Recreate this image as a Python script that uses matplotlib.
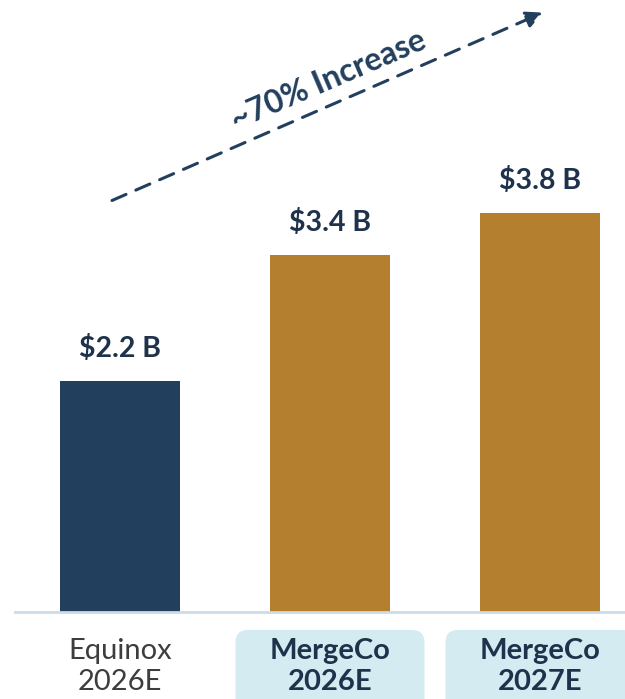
import matplotlib.pyplot as plt
from matplotlib.patches import FancyBboxPatch

plt.rcParams['font.family'] = ['Lato', 'DejaVu Sans']

# Data
categories = ['Equinox\n2026E', 'MergeCo\n2026E', 'MergeCo\n2027E']
values = [2.2, 3.4, 3.8]
value_labels = ['$2.2 B', '$3.4 B', '$3.8 B']
highlight = [False, True, True]
increase_label = '~70% Increase'

NAVY = '#223f5d'
GOLD = '#b47f2f'
TEXT_DARK = '#1f324b'
BOX_BLUE = '#d3ebf1'
BASE_LINE = '#cbdde9'

fig = plt.figure(figsize=(6.25, 6.99), dpi=100)
ax = fig.add_axes([15 / 625, 87 / 699, 610 / 625, 612 / 699])

x = list(range(len(values)))
colors = [GOLD if h else NAVY for h in highlight]
ax.bar(x, values, width=0.571, color=colors, zorder=2)

ax.set_xlim(-0.5, 2.405)
ax.set_ylim(0, 5.83)

for s in ['top', 'right', 'left']:
    ax.spines[s].set_visible(False)
ax.spines['bottom'].set_color(BASE_LINE)
ax.spines['bottom'].set_linewidth(2)
ax.set_xticks([])
ax.set_yticks([])

# value labels above bars
for xi, v, lab in zip(x, values, value_labels):
    ax.text(xi, v + 0.18, lab, ha='center', va='bottom', fontsize=20.5,
            fontweight='bold', color=TEXT_DARK)

# category labels below the baseline
for xi, cat, h in zip(x, categories, highlight):
    if h:
        box = FancyBboxPatch((xi - 0.45, -1.0), 0.9, 1.0 - 0.171,
                             boxstyle='round,pad=0,rounding_size=0.06',
                             mutation_aspect=2, transform=ax.transData,
                             facecolor=BOX_BLUE, edgecolor='none', clip_on=False)
        ax.add_patch(box)
        ax.text(xi, -0.52, cat, ha='center', va='center', fontsize=21,
                fontweight='bold', color=TEXT_DARK, linespacing=1.2,
                clip_on=False)
    else:
        ax.text(xi, -0.52, cat, ha='center', va='center', fontsize=21,
                fontweight='normal', color='#3d3d3d', linespacing=1.2,
                clip_on=False)

# dashed growth arrow
ax.annotate('', xy=(2.014, 5.71), xytext=(-0.038, 3.92),
            arrowprops=dict(arrowstyle='-|>,head_length=1.0,head_width=0.5',
                            linestyle=(0, (5, 3.5)), lw=2.2, color=NAVY,
                            shrinkA=0, shrinkB=0),
            annotation_clip=False)
ax.text(0.99, 5.07, increase_label, ha='center', va='center', rotation=23.2,
        rotation_mode='anchor', fontsize=23, fontweight='bold', color=NAVY)

fig.savefig('out.png', dpi=100)
